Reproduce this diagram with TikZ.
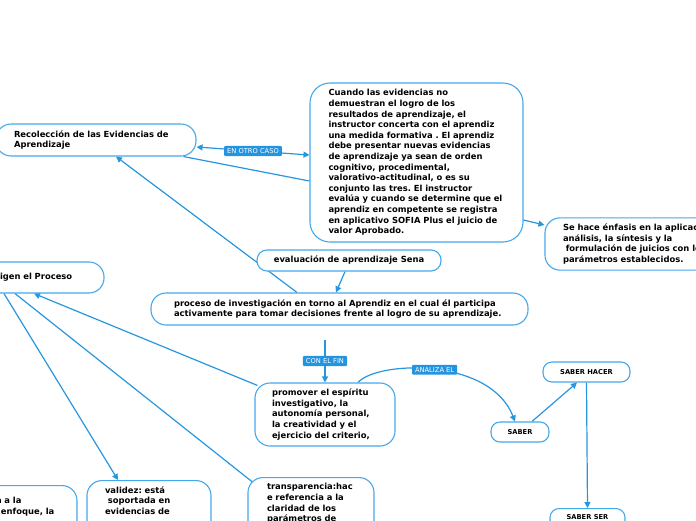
\documentclass[tikz,border=0pt]{standalone}
\usepackage{fontspec}
\setmainfont{DejaVu Sans}
\usetikzlibrary{arrows.meta,calc,backgrounds}
\frenchspacing

\definecolor{mapline}{HTML}{2696DF}
\definecolor{mapedge}{HTML}{45A8E9}
\definecolor{tagfill}{HTML}{2394E0}

\tikzset{
  topic/.style={draw=mapedge, line width=1.1pt, fill=white, rounded corners=15pt,
    align=left, inner xsep=0pt, inner ysep=6pt,
    font=\fontsize{8.4}{10.6}\selectfont\bfseries},
  keyword/.style={topic, align=center, rounded corners=9pt,
    font=\fontsize{6.7}{8}\selectfont\bfseries},
  tag/.style={fill=tagfill, text=white, rounded corners=1pt, inner xsep=3pt,
    inner ysep=2.5pt, font=\fontsize{6.7}{7}\selectfont},
  link/.style={draw=mapline, line width=1.2pt},
  >={Triangle[length=6pt,width=6pt]}
}

\begin{document}
\begin{tikzpicture}[x=1pt, y=-1pt]
\useasboundingbox (0,0) rectangle (696,520);
\clip (0,0) rectangle (696,520);

% temas
\node[topic, minimum width=200pt, minimum height=32pt, text width=164pt] (recol) at (96,140)
  {Recolección de las Evidencias de\\Aprendizaje};
\node[topic, rounded corners=20pt, minimum width=213pt, minimum height=159pt, text width=176pt] (big) at (416.5,162.5)
  {Cuando las evidencias no\\demuestran el logro de los\\resultados de aprendizaje, el\\instructor concerta con el aprendiz\\una medida formativa . El aprendiz\\debe presentar nuevas evidencias\\de aprendizaje ya sean de orden\\cognitivo, procedimental,\\valorativo-actitudinal, o es su\\conjunto las tres. El instructor\\evalúa y cuando se determine que el\\aprendiz en competente se registra\\en aplicativo SOFIA Plus el juicio de\\valor Aprobado.};
\node[topic, minimum width=275pt, minimum height=52pt, text width=239pt] (enfasis) at (682.5,244)
  {Se hace énfasis en la aplicación, el\\análisis, la síntesis y la\\~formulación de juicios con los\\parámetros establecidos.};
\node[topic, align=center, rounded corners=10pt, minimum width=184pt, minimum height=21pt] (eval) at (349,260.5)
  {evaluación de aprendizaje Sena};
\node[topic, minimum width=377pt, minimum height=32pt, text width=331pt] (proceso) at (339.5,309)
  {proceso de investigación en torno al Aprendiz en el cual él participa\\activamente para tomar decisiones frente al logro de su aprendizaje.};
\node[topic, minimum width=124pt, minimum height=31pt, text width=84pt] (igen) at (42,277.5)
  {igen el Proceso};
\node[topic, minimum width=140pt, minimum height=63pt, text width=106pt] (promover) at (325,414.5)
  {promover el espíritu\\investigativo, la\\autonomía personal,\\la creatividad y el\\ejercicio del criterio,};

% abajo
\node[topic, anchor=north, minimum width=124pt, text width=88pt, text depth=40pt] (validez) at (149,480)
  {validez: está\\~soportada en\\evidencias de};
\node[topic, anchor=north, minimum width=126pt, text width=88pt, text depth=40pt] (transp) at (311,477)
  {transparencia:hac\\e referencia a la\\claridad de los\\parámetros de};
\node[topic, anchor=north, inner ysep=12pt, minimum width=97pt, text width=65pt, text depth=40pt] (enfoque) at (28.5,485)
  {a a la\\\hspace*{5pt}enfoque, la};

% saberes
\node[keyword, minimum width=58pt, minimum height=20pt] (saber) at (520,432) {SABER};
\node[keyword, minimum width=87pt, minimum height=20pt] (hacer) at (586.5,372) {SABER HACER};
\node[keyword, anchor=north, minimum width=75pt, minimum height=20pt, text depth=20pt] (ser) at (587.5,508) {SABER SER};

\begin{scope}[on background layer]
\draw[link, <->] ([yshift=-7pt]recol.east) -- node[tag] {EN OTRO CASO} ([yshift=7.5pt]big.west);
\draw[link] ([xshift=-13pt]recol.south east) -- ([yshift=-18.5pt]big.west);
\draw[link, ->] ([yshift=-57.5pt]big.east) -- ([yshift=19pt]enfasis.west);
\draw[link, ->] ([xshift=-42.5pt]proceso.north) -- ([xshift=20pt]recol.south);
\draw[link, ->] ([xshift=-4pt]eval.south) -- ([xshift=-3.5pt]proceso.north);
\draw[link, ->] ($(proceso.south -| promover.north)+(0,14)$) -- node[tag] {CON EL FIN} (promover.north);
\draw[link, ->] ([xshift=33pt]promover.north) .. controls +(20,-22) and +(-25,-64) .. node[tag, midway] {ANALIZA EL} ([xshift=-5pt]saber.north);
\draw[link, ->] ([xshift=12pt]saber.north) -- ([xshift=-9.5pt]hacer.south);
\draw[link, ->] (hacer.south) -- (ser.north);
\draw[link, ->] ([shift={(3,3)}]promover.north west) -- ([xshift=-8pt]igen.south);
\draw[link, ->] ([xshift=-38pt]igen.south) -- ([xshift=-31pt]validez.north);
\draw[link] ([xshift=-27pt]igen.south) -- ([shift={(5,5)}]transp.north west);
\end{scope}
\end{tikzpicture}
\end{document}
